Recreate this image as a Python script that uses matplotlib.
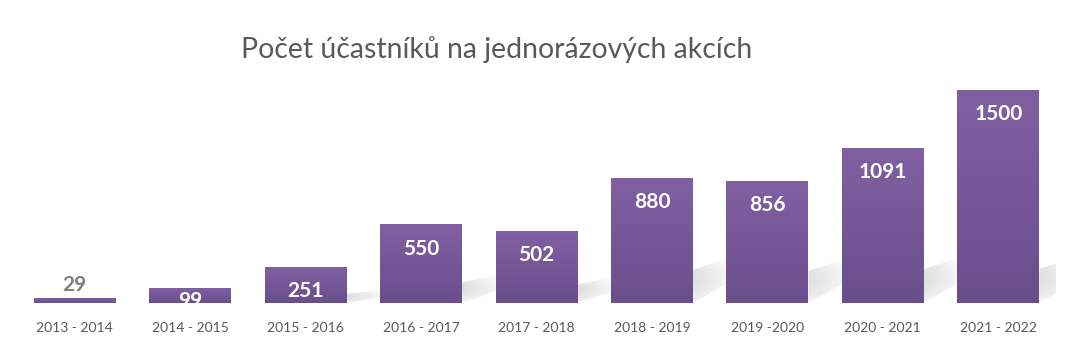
import matplotlib
matplotlib.use("Agg")
import matplotlib.pyplot as plt
import numpy as np
from matplotlib.transforms import offset_copy

categories = ["2013 - 2014", "2014 - 2015", "2015 - 2016", "2016 - 2017", "2017 - 2018",
              "2018 - 2019", "2019 -2020", "2020 - 2021", "2021 - 2022"]
values = [29, 99, 251, 550, 502, 880, 856, 1091, 1500]
title = "Počet účastníků na jednorázových akcích"

plt.rcParams['font.family'] = ['Lato', 'DejaVu Sans']

fig = plt.figure(figsize=(10.77, 3.58), dpi=100)
ax = fig.add_axes([17/1077, 55/358, 1039/1077, 227.2/358])
x = np.arange(len(values))
bar_w = 0.71
px = 1600 / 227.2  # data units per pixel (vertical)

cmap = matplotlib.colors.LinearSegmentedColormap.from_list("p", ["#6a4e8c", "#8060a2"])
grad = np.linspace(0, 1, 256).reshape(-1, 1)
shade = np.zeros((64, 256, 4))
shade[..., :3] = 0.6
hx = np.linspace(0.32, 0.0, 256)[None, :]
vy = np.sin(np.linspace(0, np.pi, 64))[:, None] ** 0.6
shade[..., 3] = hx * vy

for xi, v in zip(x, values):
    r = xi + bar_w / 2
    f = min(1.0, v / 900)
    if v > 200:
        poly = plt.Polygon([[r, 0], [r + 0.42, 28 * px * f], [r + 0.42, 50 * px * f], [r, 34 * px * f]],
                           closed=True, facecolor="none", edgecolor="none")
        ax.add_patch(poly)
        im = ax.imshow(shade, extent=[r, r + 0.42, 0, 50 * px * f], origin='lower',
                       aspect='auto', zorder=1, interpolation='bilinear')
        im.set_clip_path(poly)
    ax.imshow(grad, extent=[xi - bar_w/2, xi + bar_w/2, 0, v], origin='lower',
              cmap=cmap, aspect='auto', zorder=2, interpolation='bilinear')

ax.set_xlim(-0.5, len(values) - 0.5)
ax.set_ylim(0, 1600)
for s in ax.spines.values():
    s.set_visible(False)
ax.set_yticks([])
ax.set_xticks(x)
ax.set_xticklabels(categories, fontsize=10, color="#595959")
ax.tick_params(axis='x', length=0, pad=14)

for xi, v in zip(x, values):
    if v < 50:
        tr = offset_copy(ax.transData, fig=fig, x=0, y=3, units='points')
        ax.text(xi, v, str(v), transform=tr, ha='center', va='bottom', fontsize=15,
                fontweight='bold', color="#7f7f7f", zorder=3)
    elif v < 150:
        tr = offset_copy(ax.transData, fig=fig, x=0, y=-9, units='points')
        ax.text(xi, v, str(v), transform=tr, ha='center', va='center', fontsize=15,
                fontweight='bold', color="white", zorder=3, clip_on=True)
    else:
        tr = offset_copy(ax.transData, fig=fig, x=0, y=-17, units='points')
        ax.text(xi, v, str(v), transform=tr, ha='center', va='center', fontsize=15,
                fontweight='bold', color="white", zorder=3)

fig.text(497/1077, 1 - 50/358, title, ha='center', va='center', fontsize=20.4, color="#595959")

fig.savefig("out.png", dpi=100, facecolor="white")
